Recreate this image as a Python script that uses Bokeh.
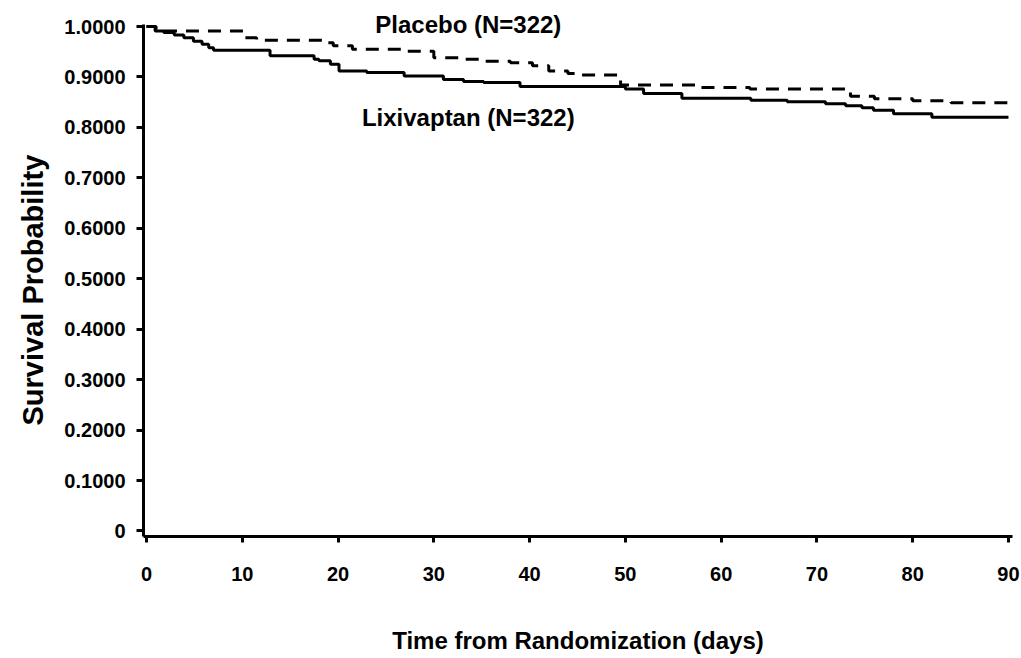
from bokeh.plotting import figure
from bokeh.models import Range1d, FixedTicker, Label, Title
from bokeh.embed import file_html
from bokeh.resources import INLINE

# ---- data ----
lixi_days = [0, 0.9, 1.8, 2.9, 3.9, 4.9, 5.8, 6.5, 7.0, 12.9, 17.5, 18.0, 19.2, 20.1,
             23.0, 26.9, 31.0, 33.1, 35.2, 39.0, 50.0, 51.9, 55.9, 63.1, 66.9, 70.9,
             73.0, 74.7, 75.9, 78.0, 82.0, 90.0]
lixi_surv = [1.0, 0.991, 0.988, 0.983, 0.978, 0.971, 0.965, 0.958, 0.953, 0.942, 0.935,
             0.932, 0.925, 0.912, 0.909, 0.902, 0.895, 0.891, 0.889, 0.881, 0.876, 0.867,
             0.858, 0.854, 0.851, 0.847, 0.843, 0.839, 0.834, 0.827, 0.820, 0.820]

plac_days = [0, 1.0, 1.5, 10.3, 11.5, 18.5, 19.5, 21.5, 27.0, 30.0, 33.0, 35.0, 38.0,
             40.3, 42.0, 44.0, 45.0, 49.5, 57.5, 63.0, 73.5, 76.0, 80.0, 84.0, 90.0]
plac_surv = [1.0, 0.994, 0.991, 0.978, 0.973, 0.968, 0.962, 0.955, 0.951, 0.938, 0.935,
             0.931, 0.928, 0.922, 0.912, 0.907, 0.904, 0.884, 0.879, 0.876, 0.862, 0.857,
             0.853, 0.849, 0.849]

x_ticks = [0, 10, 20, 30, 40, 50, 60, 70, 80, 90]
y_ticks = [0, 0.1, 0.2, 0.3, 0.4, 0.5, 0.6, 0.7, 0.8, 0.9, 1.0]
y_tick_labels = ["0", "0.1000", "0.2000", "0.3000", "0.4000", "0.5000",
                 "0.6000", "0.7000", "0.8000", "0.9000", "1.0000"]

placebo_label = "Placebo (N=322)"
lixi_label = "Lixivaptan (N=322)"
x_title = "Time from Randomization (days)"
y_title = "Survival Probability"

FONT = "Liberation Sans"

p = figure(width=1021, height=658, output_backend="svg", toolbar_location=None,
           x_range=Range1d(-0.313, 90.42), y_range=Range1d(-0.011, 1.0516),
           min_border_left=143, min_border_right=9, min_border_top=0,
           min_border_bottom=122)
p.outline_line_color = None
p.grid.visible = False
p.background_fill_color = "white"
p.border_fill_color = "white"

p.step(plac_days, plac_surv, mode="after", line_color="black", line_width=3,
       line_dash="13 9")
p.step(lixi_days, lixi_surv, mode="after", line_color="black", line_width=3)

for ax in (p.xaxis[0], p.yaxis[0]):
    ax.axis_line_width = 3
    ax.axis_line_color = "black"
    ax.major_tick_line_width = 3
    ax.major_tick_line_color = "black"
    ax.minor_tick_line_color = None
    ax.major_tick_in = 0
    ax.major_label_text_font = FONT
    ax.major_label_text_font_style = "bold"
    ax.major_label_text_font_size = "20px"
    ax.major_label_text_color = "black"
    ax.axis_label_text_font = FONT
    ax.axis_label_text_font_style = "bold"
    ax.axis_label_text_color = "black"

p.xaxis[0].ticker = FixedTicker(ticks=x_ticks)
p.xaxis[0].bounds = (-0.313, 90.42)
p.xaxis[0].major_tick_out = 6
p.xaxis[0].major_label_standoff = 24
p.xaxis[0].axis_label = x_title
p.xaxis[0].axis_label_text_font_size = "24px"
p.xaxis[0].axis_label_standoff = 43

p.yaxis[0].ticker = FixedTicker(ticks=y_ticks)
p.yaxis[0].bounds = (-0.011, 1.004)
p.yaxis[0].major_label_overrides = {t: s for t, s in zip(y_ticks, y_tick_labels)}
p.yaxis[0].major_tick_out = 7
p.yaxis[0].major_label_standoff = 11

# y axis title as a side title so that it can be shifted along the axis
p.add_layout(Title(text=y_title, align="left", offset=111, standoff=26,
                   text_font=FONT, text_font_style="bold", text_font_size="29px",
                   text_color="black"), "left")

p.add_layout(Label(x=33.6, y=1.005, text=placebo_label, text_align="center",
                   text_baseline="middle", text_font=FONT, text_font_style="bold",
                   text_font_size="24px", text_color="black"))
p.add_layout(Label(x=33.6, y=0.819, text=lixi_label, text_align="center",
                   text_baseline="middle", text_font=FONT, text_font_style="bold",
                   text_font_size="24px", text_color="black"))

open("out.html", "w").write(file_html(p, INLINE))
